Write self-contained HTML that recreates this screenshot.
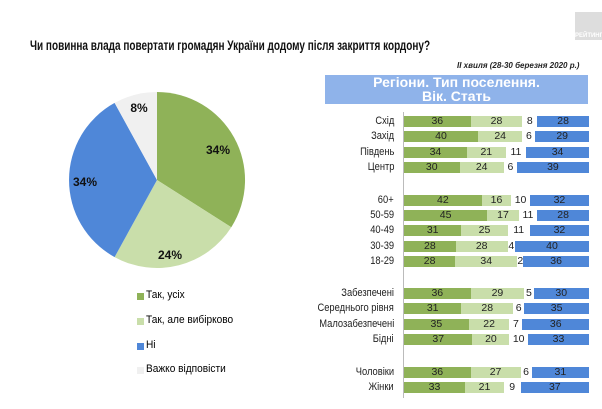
<!DOCTYPE html>
<html><head><meta charset="utf-8"><style>
body{margin:0;width:602px;height:409px;background:#fff;position:relative;overflow:hidden;font-family:"Liberation Sans",sans-serif}
.t{position:absolute;white-space:nowrap}
.row{position:absolute;left:404px;width:185px;height:11px;display:flex;font-size:10.5px;line-height:11px;color:#222}
.row div{text-align:center}
.d{background:#8fb258}.l{background:#c9deaa}.h{flex-grow:1}.b{background:#4f87d8}
.lab{position:absolute;right:208px;font-size:11px;color:#222;white-space:nowrap;line-height:11px;transform:scaleX(0.85);transform-origin:right center}
.lg{position:absolute;left:137px;width:7px;height:7px}
.lt{position:absolute;left:146px;font-size:11px;white-space:nowrap;transform:scaleX(0.92);transform-origin:left center}
</style></head><body>
<div class="t" style="left:30px;top:38px;font-size:13.5px;font-weight:bold;color:#111;transform:scaleX(0.74);transform-origin:left center">Чи повинна влада повертати громадян України додому після закриття кордону?</div>
<div class="t" style="left:575px;top:12px;width:27px;height:28px;background:#ddd"></div>
<div class="t" style="left:575px;top:33px;font-size:6px;color:#fff;font-weight:bold">РЕЙТИНГ</div>
<div class="t" style="left:457px;top:61px;font-size:8px;font-style:italic;font-weight:bold;color:#222">II хвиля (28-30 березня 2020 р.)</div>
<div class="t" style="left:325px;top:75px;width:263px;height:29px;background:#8fb3ea;color:#fff;font-weight:bold;font-size:14px;line-height:14px;text-align:center">Регіони. Тип поселення.<br>Вік. Стать</div>
<svg class="t" style="left:0;top:0" width="602" height="409">
<path d="M157 180L157 92A88 88 0 0 1 231.3 227.2Z" fill="#8fb258"/>
<path d="M157 180L231.3 227.2A88 88 0 0 1 114.6 257.1Z" fill="#c9deaa"/>
<path d="M157 180L114.6 257.1A88 88 0 0 1 114.6 102.9Z" fill="#4f87d8"/>
<path d="M157 180L114.6 102.9A88 88 0 0 1 157 92Z" fill="#f0f0f0"/>
<g font-size="12" font-weight="bold" fill="#111" text-anchor="middle">
<text x="218" y="154">34%</text><text x="170" y="259">24%</text><text x="85" y="186">34%</text><text x="139" y="112">8%</text></g>
<line x1="403.5" y1="112" x2="403.5" y2="398" stroke="#bbb"/>
</svg>
<div class="lg" style="top:293px;background:#8fb258"></div><div class="lt" style="top:289px">Так, усіх</div>
<div class="lg" style="top:318px;background:#c9deaa"></div><div class="lt" style="top:314px">Так, але вибірково</div>
<div class="lg" style="top:343px;background:#4f87d8"></div><div class="lt" style="top:339px">Ні</div>
<div class="lg" style="top:367px;background:#f0f0f0"></div><div class="lt" style="top:363px">Важко відповісти</div>

<div class="lab" style="top:116px">Схід</div><div class="row" style="top:116px"><div class="d" style="width:36%">36</div><div class="l" style="width:28%">28</div><div class="h">8</div><div class="b" style="width:28%">28</div></div>
<div class="lab" style="top:131px">Захід</div><div class="row" style="top:131px"><div class="d" style="width:40%">40</div><div class="l" style="width:24%">24</div><div class="h">6</div><div class="b" style="width:29%">29</div></div>
<div class="lab" style="top:147px">Південь</div><div class="row" style="top:147px"><div class="d" style="width:34%">34</div><div class="l" style="width:21%">21</div><div class="h">11</div><div class="b" style="width:34%">34</div></div>
<div class="lab" style="top:162px">Центр</div><div class="row" style="top:162px"><div class="d" style="width:30%">30</div><div class="l" style="width:24%">24</div><div class="h">6</div><div class="b" style="width:39%">39</div></div>

<div class="lab" style="top:195px">60+</div><div class="row" style="top:195px"><div class="d" style="width:42%">42</div><div class="l" style="width:16%">16</div><div class="h">10</div><div class="b" style="width:32%">32</div></div>
<div class="lab" style="top:210px">50-59</div><div class="row" style="top:210px"><div class="d" style="width:45%">45</div><div class="l" style="width:17%">17</div><div class="h">11</div><div class="b" style="width:28%">28</div></div>
<div class="lab" style="top:225px">40-49</div><div class="row" style="top:225px"><div class="d" style="width:31%">31</div><div class="l" style="width:25%">25</div><div class="h">11</div><div class="b" style="width:32%">32</div></div>
<div class="lab" style="top:241px">30-39</div><div class="row" style="top:241px"><div class="d" style="width:28%">28</div><div class="l" style="width:28%">28</div><div class="h">4</div><div class="b" style="width:40%">40</div></div>
<div class="lab" style="top:256px">18-29</div><div class="row" style="top:256px"><div class="d" style="width:28%">28</div><div class="l" style="width:34%">34</div><div class="h">2</div><div class="b" style="width:36%">36</div></div>

<div class="lab" style="top:288px">Забезпечені</div><div class="row" style="top:288px"><div class="d" style="width:36%">36</div><div class="l" style="width:29%">29</div><div class="h">5</div><div class="b" style="width:30%">30</div></div>
<div class="lab" style="top:303px">Середнього рівня</div><div class="row" style="top:303px"><div class="d" style="width:31%">31</div><div class="l" style="width:28%">28</div><div class="h">6</div><div class="b" style="width:35%">35</div></div>
<div class="lab" style="top:319px">Малозабезпечені</div><div class="row" style="top:319px"><div class="d" style="width:35%">35</div><div class="l" style="width:22%">22</div><div class="h">7</div><div class="b" style="width:36%">36</div></div>
<div class="lab" style="top:334px">Бідні</div><div class="row" style="top:334px"><div class="d" style="width:37%">37</div><div class="l" style="width:20%">20</div><div class="h">10</div><div class="b" style="width:33%">33</div></div>

<div class="lab" style="top:367px">Чоловіки</div><div class="row" style="top:367px"><div class="d" style="width:36%">36</div><div class="l" style="width:27%">27</div><div class="h">6</div><div class="b" style="width:31%">31</div></div>
<div class="lab" style="top:382px">Жінки</div><div class="row" style="top:382px"><div class="d" style="width:33%">33</div><div class="l" style="width:21%">21</div><div class="h">9</div><div class="b" style="width:37%">37</div></div>
</body></html>
